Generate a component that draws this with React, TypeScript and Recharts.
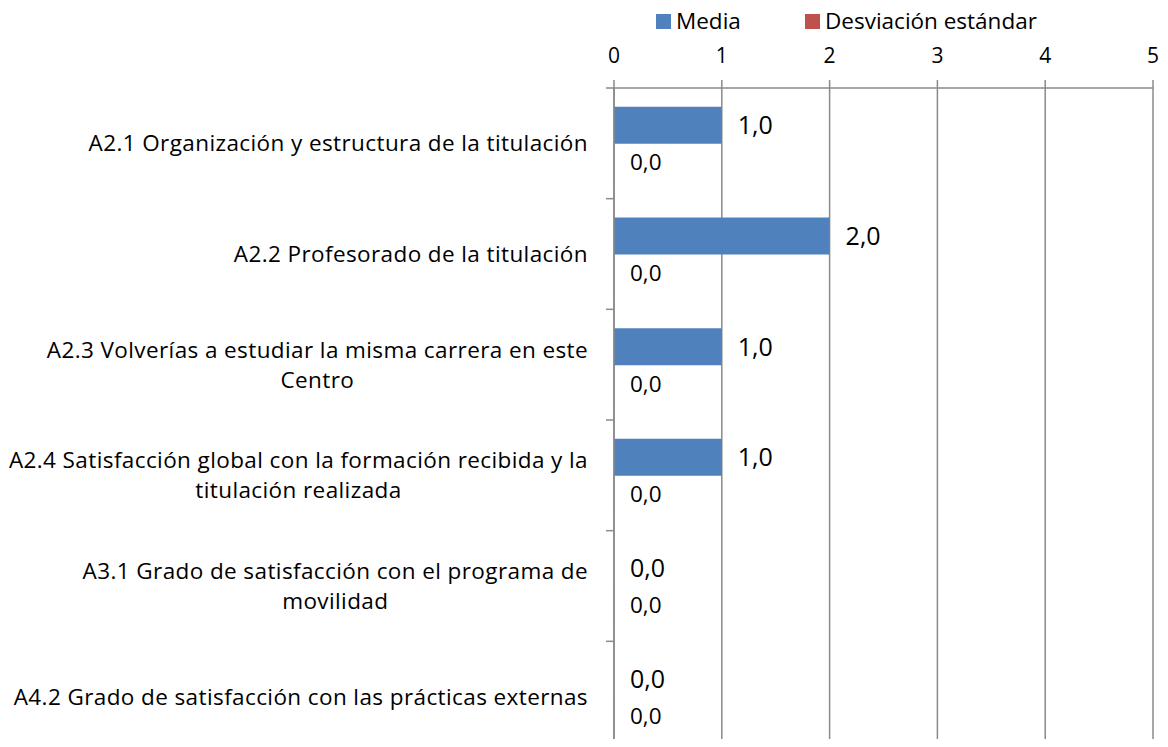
import React from 'react';
import { BarChart, Bar, XAxis, YAxis, CartesianGrid, Legend, LabelList } from 'recharts';

const categories = [
  'A2.1 Organización y estructura de la titulación',
  'A2.2 Profesorado de la titulación',
  'A2.3 Volverías a estudiar la misma carrera en este\nCentro',
  'A2.4 Satisfacción global con la formación recibida y la\ntitulación realizada',
  'A3.1 Grado de satisfacción con el programa de\nmovilidad',
  'A4.2 Grado de satisfacción con las prácticas externas',
];
const mediaValues = [1.0, 2.0, 1.0, 1.0, 0.0, 0.0];
const desviacionValues = [0.0, 0.0, 0.0, 0.0, 0.0, 0.0];
const xTicks = [0, 1, 2, 3, 4, 5];
const seriesNames = ['Media', 'Desviación estándar'];
const seriesColors = ['#4F81BD', '#C0504D'];

const data = categories.map((name, i) => ({
  name,
  media: mediaValues[i],
  desviacion: desviacionValues[i],
}));

const FONT = '"Open Sans", Lato, sans-serif';
const CAT_FONT_SIZE = 22.5;
const CAT_LETTER_SPACING = 0.4;
const AXIS_GRAY = '#8a8a8a';
const TICK_MARGIN = 26;

let measureCtx: CanvasRenderingContext2D | null = null;
function textWidth(s: string, font: string): number {
  if (!measureCtx && typeof document !== 'undefined') {
    measureCtx = document.createElement('canvas').getContext('2d');
  }
  if (!measureCtx) return s.length * 10;
  measureCtx.font = font;
  return measureCtx.measureText(s).width;
}

const fmt = (v: any) => Number(v).toFixed(1).replace('.', ',');

const CategoryTick = (props: any) => {
  const { x, y, payload, index, visibleTicksCount } = props;
  const lines = String(payload.value).split('\n');
  const widths = lines.map(
    (l) => textWidth(l, `${CAT_FONT_SIZE}px "Open Sans"`) + l.length * CAT_LETTER_SPACING
  );
  const maxW = Math.max(...widths);
  const cx = x - maxW / 2;
  const lineH = 30;
  const startY = y - ((lines.length - 1) * lineH) / 2;
  const half = payload.offset != null && payload.offset > 0 ? payload.offset : 55.3;
  const axisX = x + TICK_MARGIN;
  return (
    <g>
      <line x1={axisX - 8} x2={axisX} y1={y - half} y2={y - half} stroke={AXIS_GRAY} strokeWidth={1.5} />
      {index === visibleTicksCount - 1 && (
        <line x1={axisX - 8} x2={axisX} y1={y + half} y2={y + half} stroke={AXIS_GRAY} strokeWidth={1.5} />
      )}
      <text
        textAnchor="middle"
        fontFamily={FONT}
        fontSize={CAT_FONT_SIZE}
        letterSpacing={CAT_LETTER_SPACING}
        fill="#000"
      >
        {lines.map((l, i) => (
          <tspan key={i} x={cx} y={startY + i * lineH} dy="0.36em">
            {l}
          </tspan>
        ))}
      </text>
    </g>
  );
};

const LegendContent = () => (
  <div style={{ display: 'flex', alignItems: 'center', fontFamily: FONT, fontSize: 22.5, color: '#000' }}>
    {seriesNames.map((n, i) => (
      <div key={n} style={{ display: 'flex', alignItems: 'center', width: i === 0 ? 149 : 'auto' }}>
        <span style={{ display: 'inline-block', width: 15, height: 15, background: seriesColors[i], marginRight: 5 }} />
        <span style={{ lineHeight: '26px' }}>{n}</span>
      </div>
    ))}
  </div>
);

export default function App() {
  return (
    <div style={{ margin: -8, width: 1168, height: 747, overflow: 'hidden', background: '#fff' }}>
      <BarChart
        width={1168}
        height={752}
        data={data}
        layout="vertical"
        margin={{ top: 48, right: 15, bottom: 0, left: 0 }}
        barCategoryGap="17%"
        barGap={0}
      >
        <CartesianGrid horizontal={false} vertical stroke={AXIS_GRAY} strokeWidth={1.5} />
        <XAxis
          type="number"
          orientation="top"
          domain={[0, 5]}
          ticks={xTicks}
          height={40}
          tickSize={8}
          tickMargin={17}
          stroke={AXIS_GRAY}
          strokeWidth={1.5}
          tick={{ fill: '#000', fontSize: 21, fontFamily: FONT }}
          allowDecimals={false}
        />
        <YAxis
          type="category"
          dataKey="name"
          width={614}
          stroke={AXIS_GRAY}
          strokeWidth={1.5}
          tickLine={false}
          tickSize={0}
          tickMargin={TICK_MARGIN}
          interval={0}
          tick={<CategoryTick />}
        />
        <Legend
          layout="horizontal"
          verticalAlign="middle"
          align="center"
          wrapperStyle={{ top: 8, left: 656, width: 500 }}
          content={<LegendContent />}
        />
        <Bar dataKey="media" name={seriesNames[0]} fill={seriesColors[0]} minPointSize={0.01} isAnimationActive={false}>
          <LabelList
            dataKey="media"
            position="right"
            offset={16}
            formatter={fmt}
            style={{ fill: '#000', fontSize: 25, fontFamily: FONT }}
          />
        </Bar>
        <Bar dataKey="desviacion" name={seriesNames[1]} fill={seriesColors[1]} minPointSize={0.01} isAnimationActive={false}>
          <LabelList
            dataKey="desviacion"
            position="right"
            offset={16}
            formatter={fmt}
            style={{ fill: '#000', fontSize: 22.5, fontFamily: FONT }}
          />
        </Bar>
      </BarChart>
    </div>
  );
}
